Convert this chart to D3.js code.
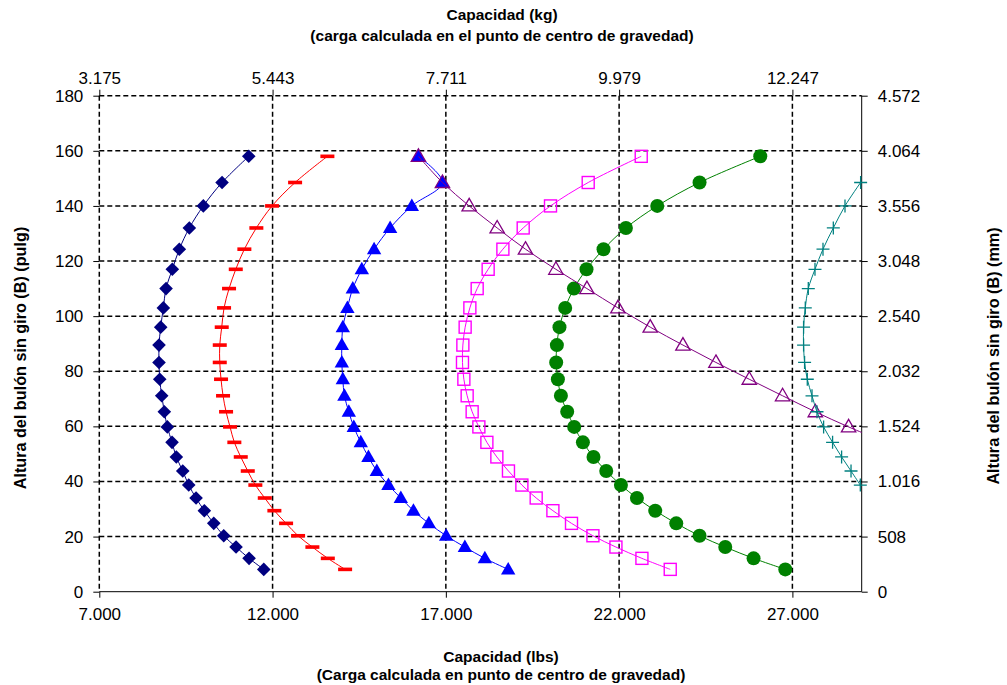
<html>
<head>
<script src="https://d3js.org/d3.v7.min.js"></script>
<style>
    body { margin: 0; background: #fff; }
    svg { font-family: "Liberation Sans", Arial, sans-serif; }
    .grid line { stroke: #000; stroke-width: 1.5px; stroke-dasharray: 5,3; }
    .axis path, .axis line { stroke: #000; stroke-width: 1px; }
    .axis text { font-size: 17px; fill: #000; }
    .title { font-size: 15.5px; font-weight: bold; fill: #000; }
    .vtitle { font-size: 16.2px; }
</style>
</head>
<body>
<svg id="chart" width="1007" height="685"></svg>
<script>
    // shared heights (pulg) of the points, top to bottom
    var heights = [158, 148.5, 140, 132, 124.3, 117, 110, 103, 96, 89.5, 83.2, 77.1, 71.1, 65.3, 59.8, 54.2, 48.9, 43.8, 38.7, 34, 29.4, 24.8, 20.3, 16.2, 12.1, 8.1];

    // capacity (lbs) of each series at those heights
    var navy    = [11313, 10542, 10002, 9598, 9309, 9107, 8926, 8848, 8772, 8723, 8723, 8744, 8801, 8876, 8963, 9099, 9223, 9408, 9581, 9792, 10031, 10303, 10591, 10946, 11322, 11746];
    var red     = [13582, 12650, 11986, 11532, 11186, 10938, 10744, 10600, 10533, 10476, 10476, 10513, 10571, 10658, 10773, 10897, 11082, 11284, 11503, 11775, 12052, 12390, 12736, 13149, 13594, 14093];
    var blue    = [16209, 16902, 16018, 15392, 14930, 14575, 14315, 14159, 14027, 13998, 13998, 14027, 14073, 14200, 14344, 14546, 14766, 15008, 15343, 15701, 16065, 16509, 17009, 17549, 18126, 18799];
    var magenta = [22638, 21108, 20020, 19232, 18646, 18221, 17904, 17693, 17557, 17491, 17480, 17520, 17615, 17759, 17953, 18184, 18472, 18807, 19194, 19607, 20089, 20626, 21244, 21908, 22658, 23475];
    var green   = [26073, 24321, 23100, 22196, 21550, 21059, 20695, 20444, 20279, 20204, 20184, 20233, 20320, 20502, 20704, 20955, 21261, 21628, 22052, 22514, 23042, 23649, 24321, 25063, 25880, 26795];
    var purple  = [16209, 16902, 17673, 18481, 19298, 20176, 21071, 21965, 22898, 23842, 24794, 25756, 26717, 27661, 28622, 29700, null, null, null, null, null, null, null, null, null, null];
    var teal    = [null, 28969, 28518, 28181, 27883, 27652, 27459, 27372, 27323, 27323, 27352, 27430, 27566, 27710, 27901, 28160, 28420, 28692, 28960, null, null, null, null, null, null, null];

    var xTicks = [7000, 12000, 17000, 22000, 27000];
    var yTicks = [0, 20, 40, 60, 80, 100, 120, 140, 160, 180];
    var xDomain = [7000, 29000];
    var yDomain = [0, 180];

    var series = [
        { name: 'navy',    values: navy,    color: '#000080', marker: 'diamond' },
        { name: 'red',     values: red,     color: '#FF0000', marker: 'dash' },
        { name: 'blue',    values: blue,    color: '#0000FF', marker: 'triangle' },
        { name: 'magenta', values: magenta, color: '#FF00FF', marker: 'square' },
        { name: 'green',   values: green,   color: '#008000', marker: 'circle' },
        { name: 'purple',  values: purple,  color: '#800080', marker: 'opentri' },
        { name: 'teal',    values: teal,    color: '#008080', marker: 'plus' }
    ];

    var svg = d3.select('#chart');
    var margin = { top: 95.7, left: 99.3, right: 145.3, bottom: 93.3 };
    var width = +svg.attr('width') - margin.left - margin.right;
    var height = +svg.attr('height') - margin.top - margin.bottom;
    var g = svg.append('g')
        .attr('transform', 'translate(' + margin.left + ',' + margin.top + ')');

    var x = d3.scaleLinear().domain(xDomain).range([0, width]);
    var y = d3.scaleLinear().domain(yDomain).range([height, 0]);

    var loc = d3.formatLocale({ decimal: ',', thousands: '.', grouping: [3], currency: ['', ''] });
    var fmt = loc.format(',.0f');

    // grid
    var grid = g.append('g').attr('class', 'grid');
    grid.selectAll('.h').data(yTicks.filter(function(d) { return d > 0; }))
        .enter().append('line')
        .attr('x1', 0).attr('x2', width)
        .attr('y1', function(d) { return y(d); }).attr('y2', function(d) { return y(d); });
    grid.selectAll('.v').data(xTicks)
        .enter().append('line')
        .attr('y1', 0).attr('y2', height)
        .attr('x1', function(d) { return x(d); }).attr('x2', function(d) { return x(d); });

    // axes
    var axB = g.append('g').attr('class', 'axis')
        .attr('transform', 'translate(0,' + height + ')')
        .call(d3.axisBottom(x).tickValues(xTicks).tickSize(6).tickSizeOuter(0).tickPadding(10).tickFormat(fmt));
    axB.select('.domain').attr('d', 'M0,0H' + width);

    var axT = g.append('g').attr('class', 'axis')
        .call(d3.axisTop(x).tickValues(xTicks).tickSize(6).tickSizeOuter(0).tickPadding(6)
            .tickFormat(function(d) { return fmt(d * 0.45359237); }));
    axT.select('.domain').remove();

    var axL = g.append('g').attr('class', 'axis')
        .call(d3.axisLeft(y).tickValues(yTicks).tickSize(6).tickSizeOuter(0).tickPadding(10));
    axL.select('.domain').remove();

    var axR = g.append('g').attr('class', 'axis')
        .attr('transform', 'translate(' + width + ',0)')
        .call(d3.axisRight(y).tickValues(yTicks).tickSize(6).tickSizeOuter(0).tickPadding(10)
            .tickFormat(function(d) { return fmt(d * 25.4); }));
    axR.select('.domain').attr('d', 'M0,0V' + height);

    // clip for the lines
    svg.append('defs').append('clipPath').attr('id', 'plot-clip')
        .append('rect').attr('width', width).attr('height', height);

    var line = d3.line()
        .defined(function(d) { return d.v != null; })
        .x(function(d) { return x(d.v); })
        .y(function(d) { return y(d.h); })
        .curve(d3.curveCatmullRom.alpha(0.5));

    var tri = 'M0,-7.5L7.2,5L-7.2,5Z';

    series.forEach(function(s) {
        var pts = s.values.map(function(v, i) { return { v: v, h: heights[i] }; });
        var shown = pts.filter(function(d) { return d.v != null && d.v <= xDomain[1]; });

        g.append('path')
            .datum(pts.filter(function(d) { return d.v != null; }))
            .attr('clip-path', 'url(#plot-clip)')
            .attr('fill', 'none')
            .attr('stroke', s.color)
            .attr('stroke-width', 1)
            .attr('d', line);

        var m = g.append('g').selectAll('g').data(shown).enter().append('g')
            .attr('transform', function(d) { return 'translate(' + x(d.v) + ',' + y(d.h) + ')'; });

        if (s.marker === 'diamond') {
            m.append('path').attr('d', 'M0,-6.8L6.8,0L0,6.8L-6.8,0Z').attr('fill', s.color);
        } else if (s.marker === 'dash') {
            m.append('rect').attr('x', -7).attr('y', -1.8).attr('width', 14).attr('height', 3.6).attr('fill', s.color);
        } else if (s.marker === 'triangle') {
            m.append('path').attr('d', tri).attr('fill', s.color);
        } else if (s.marker === 'square') {
            m.append('rect').attr('x', -6).attr('y', -6).attr('width', 12).attr('height', 12)
                .attr('fill', 'none').attr('stroke', s.color).attr('stroke-width', 1.4);
        } else if (s.marker === 'circle') {
            m.append('circle').attr('r', 7).attr('fill', s.color);
        } else if (s.marker === 'opentri') {
            m.append('path').attr('d', tri).attr('fill', 'none').attr('stroke', s.color).attr('stroke-width', 1.3);
        } else if (s.marker === 'plus') {
            m.append('path').attr('d', 'M-6.5,0H6.5M0,-6.5V6.5').attr('stroke', s.color).attr('stroke-width', 1.3);
        }
    });

    // titles
    svg.append('text').attr('class', 'title').attr('x', 502).attr('y', 20).attr('text-anchor', 'middle').text('Capacidad (kg)');
    svg.append('text').attr('class', 'title').attr('x', 502).attr('y', 41).attr('text-anchor', 'middle').text('(carga calculada en el punto de centro de gravedad)');
    svg.append('text').attr('class', 'title').attr('x', 501).attr('y', 662).attr('text-anchor', 'middle').text('Capacidad (lbs)');
    svg.append('text').attr('class', 'title').attr('x', 501).attr('y', 680).attr('text-anchor', 'middle').text('(Carga calculada en punto de centro de gravedad)');
    svg.append('text').attr('class', 'title vtitle').attr('text-anchor', 'middle')
        .attr('transform', 'translate(26,358) rotate(-90)').text('Altura del bulón sin giro (B) (pulg)');
    svg.append('text').attr('class', 'title vtitle').attr('text-anchor', 'middle')
        .attr('transform', 'translate(999,356) rotate(-90)').text('Altura del bulón sin giro (B) (mm)');
</script>
</body>
</html>
